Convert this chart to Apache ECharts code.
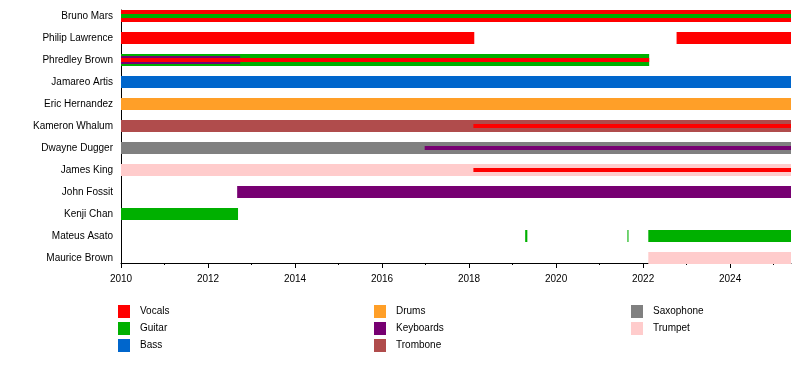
<!DOCTYPE html>
<html><head><meta charset="utf-8">
<script src="https://cdn.jsdelivr.net/npm/echarts@6/dist/echarts.min.js"></script>
<style>html,body{margin:0;padding:0;background:#fff}#c{width:800px;height:383px}</style>
</head><body><div id="c"></div>
<script>
// ---- data ----
const members = ['Bruno Mars','Philip Lawrence','Phredley Brown','Jamareo Artis','Eric Hernandez','Kameron Whalum','Dwayne Dugger','James King','John Fossit','Kenji Chan','Mateus Asato','Maurice Brown'];
const instruments = ['Vocals','Guitar','Bass','Drums','Keyboards','Trombone','Saxophone','Trumpet'];
const yearTicks = [2010,2012,2014,2016,2018,2020,2022,2024];
const minorYears = [2011,2013,2015,2017,2019,2021,2023,2025];
const START = 2010;
const END = 2025.40;
// stints: [instrument, start, end, rank]  (rank 0 = main, 1 = second, 2 = additional)
const brunoMars      = [['Vocals',START,END,0],['Guitar',START,END,2]];
const philipLawrence = [['Vocals',START,2018.12,0],['Vocals',2022.77,END,0]];
const phredleyBrown  = [['Guitar',START,2022.14,0],['Keyboards',START,2012.74,1],['Vocals',START,2022.14,2]];
const jamareoArtis   = [['Bass',START,END,0]];
const ericHernandez  = [['Drums',START,END,0]];
const kameronWhalum  = [['Trombone',START,END,0],['Vocals',2018.1,END,2]];
const dwayneDugger   = [['Saxophone',START,END,0],['Keyboards',2016.98,END,2]];
const jamesKing      = [['Trumpet',START,END,0],['Vocals',2018.1,END,2]];
const johnFossit     = [['Keyboards',2012.67,END,0]];
const kenjiChan      = [['Guitar',START,2012.69,0]];
const mateusAsato    = [['Guitar',2019.29,2019.34,0],['Guitar',2021.64,2021.665,0],['Guitar',2022.12,END,0]];
const mauriceBrown   = [['Trumpet',2022.12,END,0]];
const stintsByMember = [brunoMars,philipLawrence,phredleyBrown,jamareoArtis,ericHernandez,kameronWhalum,dwayneDugger,jamesKing,johnFossit,kenjiChan,mateusAsato,mauriceBrown];

// ---- styles ----
const palette = {Vocals:'#ff0000',Guitar:'#00b000',Bass:'#0066cc',Drums:'#ff9f28',Keyboards:'#770072',Trombone:'#b04c4c',Saxophone:'#808080',Trumpet:'#ffcccc'};
const FONT = '"Liberation Sans", Arial, sans-serif';
const ROW_PX = 22, BAR_PX = 12, TOP_PX = 10, AXIS_Y = 263, FIRST_CENTER = 16;

function renderItem(params, api) {
  const row = api.value(0), s = api.value(1), e = api.value(2), rank = api.value(3);
  const p0 = api.coord([s, row]);
  const p1 = api.coord([e, row]);
  const unit = api.size([0, 1])[1];
  const full = unit * BAR_PX / ROW_PX;
  const h = rank === 0 ? full : (rank === 1 ? full * 2 / 3 : full / 3);
  return {
    type: 'rect',
    shape: {x: p0[0], y: p0[1] - h / 2, width: Math.max(p1[0] - p0[0], 1), height: h},
    style: {fill: api.visual('color')},
    z2: rank * 10
  };
}

const series = instruments.map(inst => {
  const data = [];
  stintsByMember.forEach((list, i) => list.forEach(st => {
    if (st[0] === inst) data.push([i, st[1], st[2], st[3]]);
  }));
  return {
    type: 'custom', name: inst, renderItem, data,
    itemStyle: {color: palette[inst]},
    encode: {x: [1, 2], y: 0},
    xAxisIndex: 0, yAxisIndex: 0
  };
});

const legendCols = [instruments.slice(0,3), instruments.slice(3,6), instruments.slice(6)];
const legendLefts = [118, 374, 631];
const legend = legendCols.map((d, k) => ({
  data: d, left: legendLefts[k], top: 305, orient: 'vertical',
  icon: 'rect', itemWidth: 12, itemHeight: 13, itemGap: 4, padding: 0,
  selectedMode: false,
  textStyle: {fontSize: 10, color: '#000', fontFamily: FONT, padding: [0,0,0,5]}
}));

const OFF = -(AXIS_Y - TOP_PX);
const chart = echarts.init(document.getElementById('c'), null, {renderer: 'canvas'});
chart.setOption({
  animation: false,
  backgroundColor: '#fff',
  grid: {left: 121, right: 9, top: TOP_PX, bottom: 383 - AXIS_Y},
  legend,
  xAxis: [
    { // labels only (series axis)
      type: 'value', min: START, max: END, interval: 2, position: 'bottom',
      axisLine: {show: false, onZero: false},
      axisTick: {show: false},
      axisLabel: {customValues: yearTicks, formatter: v => String(v), fontSize: 10, color: '#000', fontFamily: FONT, margin: 11},
      splitLine: {show: false}
    },
    { // axis line + major ticks
      type: 'value', min: START, max: END, position: 'top', offset: OFF,
      axisLine: {show: true, onZero: false, lineStyle: {color: '#000', width: 1}},
      axisTick: {show: true, inside: true, customValues: yearTicks, length: 5, lineStyle: {color: '#000', width: 1}},
      axisLabel: {show: false},
      splitLine: {show: false}
    },
    { // minor ticks
      type: 'value', min: START, max: END, position: 'top', offset: OFF,
      axisLine: {show: false, onZero: false},
      axisTick: {show: true, inside: true, customValues: minorYears, length: 2, lineStyle: {color: '#000', width: 1}},
      axisLabel: {show: false},
      splitLine: {show: false}
    }
  ],
  yAxis: {
    type: 'value', inverse: true,
    min: -(FIRST_CENTER - TOP_PX) / ROW_PX,
    max: (AXIS_Y - FIRST_CENTER) / ROW_PX,
    axisLine: {show: true, onZero: false, lineStyle: {color: '#000', width: 1}},
    axisTick: {show: false},
    splitLine: {show: false},
    axisLabel: {customValues: members.map((m, i) => i), formatter: v => members[Math.round(v)], fontSize: 10, color: '#000', fontFamily: FONT, margin: 8}
  },
  series
});
</script></body></html>
